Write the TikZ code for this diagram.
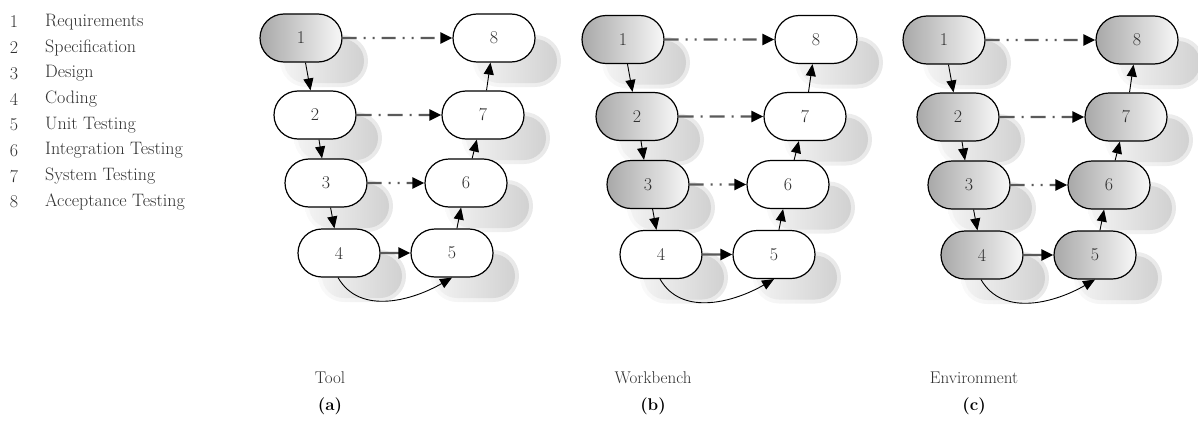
\documentclass[tikz,border=0pt]{standalone}
\usetikzlibrary{arrows.meta,shapes.misc}
\definecolor{txt}{HTML}{303030}
\definecolor{linkgray}{HTML}{5A5A5A}
\tikzset{
  x=1pt, y=-1pt,
  stage/.style={rounded rectangle, draw=black, line width=1.2pt,
    minimum width=82pt, minimum height=48pt, inner sep=0pt, fill=white,
    text=txt, font=\fontsize{18}{18}\selectfont},
  done/.style={left color=gray!68, right color=gray!6},
  shadowhalo/.style={rounded rectangle, draw=none, minimum width=88pt,
    minimum height=52pt, inner sep=0pt, left color=gray!4, right color=gray!18},
  shadowbox/.style={rounded rectangle, draw=none, minimum width=80pt,
    minimum height=44pt, inner sep=0pt, left color=gray!10, right color=gray!36},
  vlink/.style={draw=black, line width=0.9pt, -{Triangle[length=12pt,width=10pt]}},
  hlink/.style={draw=linkgray, line width=2.4pt, -{Triangle[length=12pt,width=11pt,color=black]}},
  curvelink/.style={draw=black, line width=0.9pt, -{Triangle[length=12pt,width=10pt]}},
  dashdotdot/.style={dash pattern=on 14pt off 7pt on 2pt off 7pt on 2pt off 7pt},
  dashdot/.style={dash pattern=on 15pt off 7pt on 2pt off 7pt},
  legnum/.style={text=txt, font=\fontsize{18}{18}\selectfont, inner sep=0pt},
  legtxt/.style={text=txt, font=\fontsize{18}{18}\selectfont, inner sep=0pt, anchor=west},
  caption/.style={text=txt, font=\fontsize{17}{17}\selectfont, inner sep=0pt},
  subcap/.style={text=black, font=\fontsize{17}{17}\selectfont\bfseries, inner sep=0pt},
  a1/.style={done},
  b1/.style={done}, b2/.style={done}, b3/.style={done},
  c1/.style={done}, c2/.style={done}, c3/.style={done}, c4/.style={done},
  c5/.style={done}, c6/.style={done}, c7/.style={done}, c8/.style={done},
}
\begin{document}
\begin{tikzpicture}
\useasboundingbox (0,0) rectangle (1198,420);
% legend
\foreach \i/\t in {1/Requirements, 2/Specification, 3/Design, 4/Coding,
  5/Unit Testing, 6/Integration Testing, 7/System Testing, 8/Acceptance Testing} {
  \node[legnum] (ln\i) at (14, {22+25.7*(\i-1)}) {\i};
  \node[legtxt] (lt\i) at (45, {22+25.7*(\i-1)}) {\t};
}
% panels
\foreach \p/\dx/\dy in {a/0/0, b/322/1.5, c/643/2} {
  \begin{scope}[shift={(\dx,\dy)}]
    \foreach \n/\x/\y in {1/301/38, 8/494/38, 2/315/115, 7/483/115,
                          3/326/183, 6/466/183, 4/339/253, 5/452/253} {
      \node[shadowhalo] (\p h\n) at (\x+23,\y+23) {};
      \node[shadowbox] (\p s\n) at (\x+23,\y+23) {};
    }
    \foreach \n/\x/\y in {1/301/38, 8/494/38, 2/315/115, 7/483/115,
                          3/326/183, 6/466/183, 4/339/253, 5/452/253}
      \node[stage, \p\n/.try] (\p\n) at (\x,\y) {\n};
  \end{scope}
  \draw[vlink] (\p1) -- (\p2);
  \draw[vlink] (\p2) -- (\p3);
  \draw[vlink] (\p3) -- (\p4);
  \draw[vlink] (\p5) -- (\p6);
  \draw[vlink] (\p6) -- (\p7);
  \draw[vlink] (\p7) -- (\p8);
  \draw[hlink, dashdotdot] (\p1) -- (\p8);
  \draw[hlink, dashdot] (\p2) -- (\p7);
  \draw[hlink, dashdotdot] (\p3) -- (\p6);
  \draw[hlink] (\p4) -- (\p5);
  \draw[curvelink] ([xshift=-1pt]\p4.south) to[out=-60, in=-150] (\p5.south);
}
% captions
\node[caption] (capa) at (330,378) {Tool};
\node[subcap] (suba) at (330,406) {(a)};
\node[caption] (capb) at (653,378) {Workbench};
\node[subcap] (subb) at (653,406) {(b)};
\node[caption] (capc) at (974,378) {Environment};
\node[subcap] (subc) at (974,406) {(c)};
\end{tikzpicture}
\end{document}
